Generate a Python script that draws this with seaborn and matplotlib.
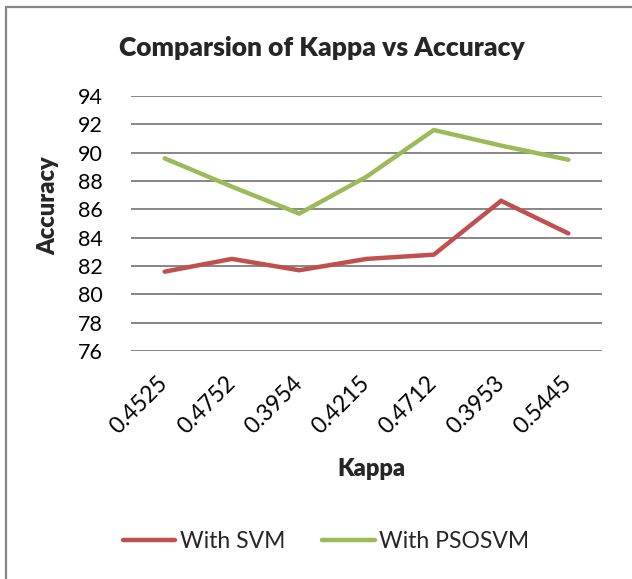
import pandas as pd
import matplotlib
matplotlib.use("Agg")
import matplotlib.pyplot as plt
import seaborn as sns
from matplotlib.patches import Rectangle

sns.set_theme(style="white")
plt.rcParams["font.family"] = ["Lato", "DejaVu Sans"]

# valores
kappa = ["0.4525", "0.4752", "0.3954", "0.4215", "0.4712", "0.3953", "0.5445"]
acc_svm = [81.6, 82.5, 81.7, 82.5, 82.8, 86.6, 84.3]
acc_psosvm = [89.6, 87.6, 85.7, 88.3, 91.6, 90.5, 89.5]
series = ["With SVM", "With PSOSVM"]
cores = ["#C0504D", "#9BBB59"]
y_ticks = [76, 78, 80, 82, 84, 86, 88, 90, 92, 94]

df = pd.DataFrame({
    "Kappa": kappa * 2,
    "Accuracy": acc_svm + acc_psosvm,
    "Serie": [series[0]] * len(kappa) + [series[1]] * len(kappa),
})

W, H = 632, 579
fig = plt.figure(figsize=(W / 100, H / 100), dpi=100)
ax = fig.add_axes([131 / W, 1 - 351 / H, (602 - 131) / W, (351 - 96) / H])

sns.lineplot(data=df, x="Kappa", y="Accuracy", hue="Serie", palette=cores,
             sort=False, linewidth=3.2, ax=ax, legend=True)
for ln in ax.get_lines():
    ln.set_solid_capstyle("round")
    ln.set_solid_joinstyle("miter")

ax.set_xlim(-0.5, len(kappa) - 0.5)
ax.set_ylim(76, 94)
ax.set_yticks(y_ticks)
ax.yaxis.grid(True, color="#868686", linewidth=1.4)
ax.xaxis.grid(False)
for s in ax.spines.values():
    s.set_visible(False)
ax.tick_params(axis="y", labelsize=15.5, pad=20, length=0, labelcolor="black")
ax.tick_params(axis="x", labelsize=16.5, length=0, pad=21, labelcolor="black")
for lb in ax.get_xticklabels():
    lb.set_rotation(45)
    lb.set_ha("right")
    lb.set_va("center")
    lb.set_rotation_mode("anchor")
ax.set_xlabel("")
ax.set_ylabel("")

fig.text(322 / W, 1 - 48 / H, "Comparsion of Kappa vs Accuracy", ha="center",
         va="center", fontsize=19, fontweight="heavy")
fig.text(48 / W, 1 - 206 / H, "Accuracy", rotation=90, ha="center",
         va="center", fontsize=17, fontweight="heavy")
fig.text(371 / W, 1 - 469 / H, "Kappa", ha="center", va="center",
         fontsize=17, fontweight="heavy")

handles, labels = ax.get_legend_handles_labels()
ax.legend_.remove()
leg = fig.legend(handles, labels, loc="center", bbox_to_anchor=(326 / W, 1 - 542 / H),
                 ncol=2, frameon=False, fontsize=16.5, handlelength=2.3,
                 handletextpad=0.2, columnspacing=1.6)
for h in leg.get_lines():
    h.set_linewidth(3.2)
    h.set_solid_capstyle("round")

# moldura do grafico
fig.patches.append(Rectangle((6 / W, -0.1), 1.2, 1 - 7 / H + 0.1,
                             transform=fig.transFigure, fill=False,
                             edgecolor="#868686", linewidth=1.6))

fig.savefig("out.png", dpi=100)
